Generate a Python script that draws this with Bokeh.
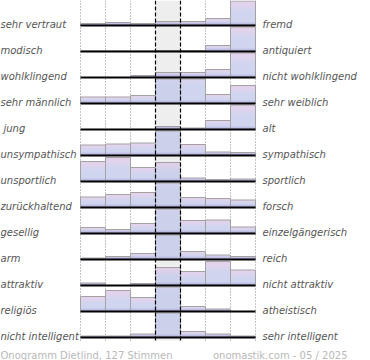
import math
from bokeh.plotting import figure
from bokeh.models import Range1d, ColumnDataSource
from bokeh.embed import file_html
from bokeh.resources import INLINE
from bokeh.core.properties import value

# ---------------- data ----------------
left_labels = ["sehr vertraut", "modisch", "wohlklingend", "sehr männlich", "jung",
               "unsympathisch", "unsportlich", "zurückhaltend", "gesellig", "arm",
               "attraktiv", "religiös", "nicht intelligent"]
right_labels = ["fremd", "antiquiert", "nicht wohlklingend", "sehr weiblich", "alt",
                "sympathisch", "sportlich", "forsch", "einzelgängerisch", "reich",
                "nicht attraktiv", "atheistisch", "sehr intelligent"]

v_vertraut = [2, 3, 2, 4, 4, 7, 25]
v_modisch = [0.5, 0.5, 0.5, 1, 1, 6, 25]
v_wohlklingend = [0, 0, 2, 5, 5, 8, 25]
v_maennlich = [6.5, 6.5, 8, 38, 34, 9, 18]
v_jung = [0, 0, 0, 3, 1.5, 9, 25]
v_unsympathisch = [10.5, 11.5, 12.5, 40, 11, 3.5, 3]
v_unsportlich = [20, 24, 14, 19, 3.5, 2, 2.5]
v_zurueckhaltend = [10.5, 13, 15, 36, 10, 9, 7.5]
v_gesellig = [6, 4, 10, 34, 13, 13.5, 6.5]
v_arm = [1.5, 3, 6, 45, 8, 4.5, 3]
v_attraktiv = [2.5, 0, 2, 18, 14, 24, 15.5]
v_religioes = [15, 21, 14, 38, 5, 2.5, 0]
v_intelligent = [1.5, 1.5, 3.5, 50, 6, 3.5, 1.5]

footer_left = "Onogramm Dietlind, 127 Stimmen"
footer_right = "onomastik.com - 05 / 2025"

rows = [v_vertraut, v_modisch, v_wohlklingend, v_maennlich, v_jung, v_unsympathisch,
        v_unsportlich, v_zurueckhaltend, v_gesellig, v_arm, v_attraktiv, v_religioes,
        v_intelligent]

# ---------------- geometry ----------------
W, H = 370, 360
PX_X, PX_Y = 25.0, 26.0      # pixels per column / per row
X0, Y0 = 80.0, 25.0          # pixel position of column 0 / first baseline
CAP = 24.5                   # visible bar height (value units) per row
S = 1.0 / PX_Y               # row units per value unit
NCOL = 7
NROW = len(rows)

p = figure(width=W, height=H,
           x_range=Range1d(-X0 / PX_X, (W - X0) / PX_X),
           y_range=Range1d(-(H - Y0) / PX_Y, Y0 / PX_Y),
           output_backend="svg", toolbar_location=None, min_border=0,
           outline_line_color=None, background_fill_color="white",
           border_fill_color="white")
p.axis.visible = False
p.grid.visible = False

y_top = Y0 / PX_Y
y_low = -(NROW - 1) - 3.0 / PX_Y

# central column background
p.quad(left=[3], right=[4], top=[y_top], bottom=[y_low], fill_color="#eeeeee", line_color=None)

# dotted column lines
for c in [0, 1, 2, 5, 6, 7]:
    p.segment(x0=[c], y0=[y_top], x1=[c], y1=[y_low], line_color="#8a8a8a",
              line_width=1, line_dash="1 2")


def hex2rgb(h):
    return tuple(int(h[i:i + 2], 16) for i in (1, 3, 5))


def mix(a, b, t):
    return tuple(a[i] + (b[i] - a[i]) * t for i in range(3))


BLUE = hex2rgb("#c0c7ea")
PINK = hex2rgb("#dcc4e6")
PURPLE = hex2rgb("#8a7ec2")


def strip_color(ymid, full):
    t = ymid / full if full > 0 else 0
    if t < 0.45:
        c = BLUE
    else:
        u = (t - 0.45) / 0.55
        c = mix(BLUE, PINK, u * u * (3 - 2 * u))
    if ymid < 4:
        c = mix(c, PURPLE, (1 - ymid / 4) ** 1.2)
    return "#%02x%02x%02x" % tuple(int(round(x)) for x in c)


sl, sr, sb, st, sc = [], [], [], [], []
ol, orr, ob, ot = [], [], [], []
for i, vals in enumerate(rows):
    base = -i
    for j, v in enumerate(vals):
        if v <= 0:
            continue
        vis = min(v, CAP)
        n = int(math.ceil(vis / 0.5))
        for k in range(n):
            a = k * 0.5
            b = min((k + 1) * 0.5, vis)
            sl.append(j); sr.append(j + 1)
            sb.append(base + a * S); st.append(base + b * S)
            sc.append(strip_color((a + b) / 2, v))
        ol.append(j); orr.append(j + 1); ob.append(base); ot.append(base + vis * S)

p.quad(source=ColumnDataSource(dict(left=sl, right=sr, bottom=sb, top=st, color=sc)),
       left="left", right="right", bottom="bottom", top="top",
       fill_color="color", line_color=None)
p.quad(left=ol, right=orr, bottom=ob, top=ot, fill_color=None,
       line_color="#a2a2a2", line_width=1)

# dashed lines of the central column
for c in [3, 4]:
    p.segment(x0=[c], y0=[y_top], x1=[c], y1=[y_low], line_color="black",
              line_width=1.2, line_dash="4 2")

# baselines
p.segment(x0=[0] * NROW, y0=[-i for i in range(NROW)], x1=[NCOL] * NROW,
          y1=[-i for i in range(NROW)], line_color="black", line_width=2)

# labels
ys = [-i + 1.0 / PX_Y for i in range(NROW)]
left_src = ColumnDataSource(dict(
    x=[-X0 / PX_X] * NROW, y=ys, text=left_labels,
    xo=[3 if t == "jung" else 0 for t in left_labels]))
p.text(x="x", y="y", text="text", x_offset="xo", source=left_src,
       text_font=value("DejaVu Sans"), text_font_style="italic", text_font_size="10px",
       text_color="#555555", text_align="left", text_baseline="alphabetic")
p.text(x=[(262 - X0) / PX_X] * NROW, y=ys, text=right_labels, text_font=value("DejaVu Sans"),
       text_font_style="italic", text_font_size="10px", text_color="#555555",
       text_align="left", text_baseline="alphabetic")

fy = -(355 - Y0) / PX_Y
p.text(x=[-X0 / PX_X], y=[fy], text=[footer_left], text_font=value("DejaVu Sans"),
       text_font_size="10px", text_color="#b8b8b8", text_align="left",
       text_baseline="alphabetic")
p.text(x=[(347 - X0) / PX_X], y=[fy], text=[footer_right], text_font=value("DejaVu Sans"),
       text_font_size="10px", text_color="#b8b8b8", text_align="right",
       text_baseline="alphabetic")

open("out.html", "w").write(file_html(p, INLINE))
